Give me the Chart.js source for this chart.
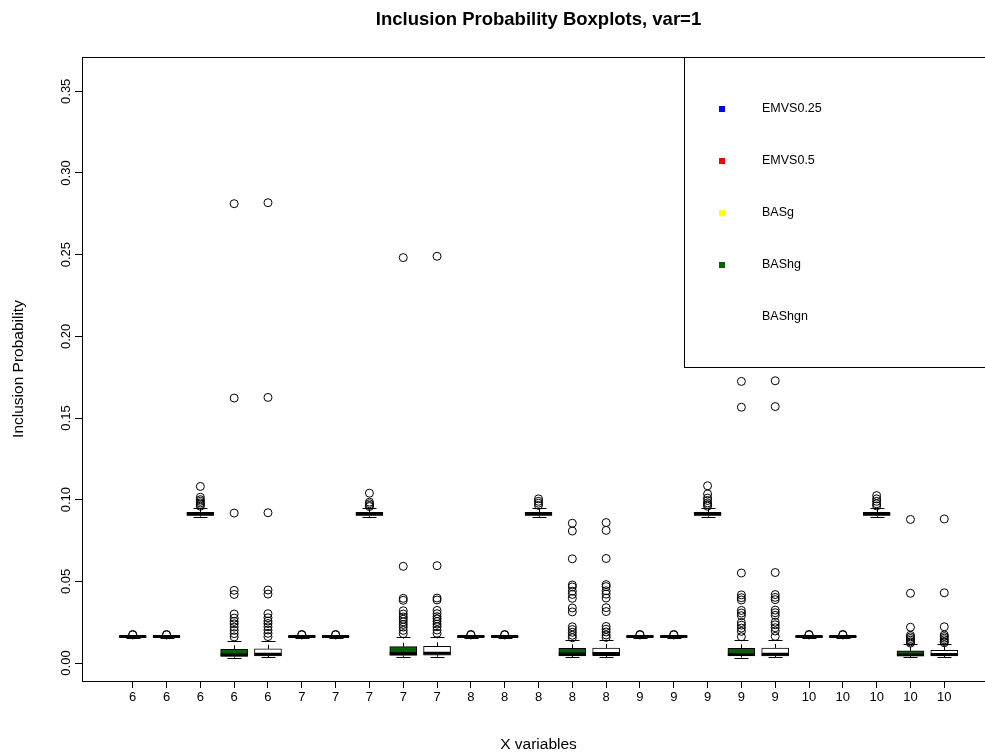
<!DOCTYPE html>
<html lang="en">
<head>
<meta charset="UTF-8">
<title>Inclusion Probability Boxplots</title>
<script src="https://cdn.jsdelivr.net/npm/chart.js"></script>
<style>
  html, body { margin: 0; padding: 0; background: #fff; overflow: hidden; }
  #grafico { display: block; }
</style>
</head>
<body>
<canvas id="grafico" width="1000" height="756"></canvas>
<script>
// one box per (variable, method), five methods for each variable
const xLabels = ['6','6','6','6','6','7','7','7','7','7','8','8','8','8','8',
                 '9','9','9','9','9','10','10','10','10','10'];
const methods = ['EMVS0.25', 'EMVS0.5', 'BASg', 'BAShg', 'BAShgn'];
const methodColors = ['#0000FF', '#FF0000', '#FFFF00', '#006400', '#FFFFFF'];
const yTicks = [0, 0.05, 0.10, 0.15, 0.20, 0.25, 0.30, 0.35];

const whiskerLow = [
  0.0156, 0.0156, 0.0896, 0.0033, 0.0034,
  0.0156, 0.0156, 0.0896, 0.0038, 0.0039,
  0.0156, 0.0156, 0.0896, 0.0035, 0.0036,
  0.0156, 0.0156, 0.0896, 0.0033, 0.0034,
  0.0156, 0.0156, 0.0896, 0.0035, 0.0036
];
const q1 = [
  0.0159, 0.0159, 0.0903, 0.0041, 0.0043,
  0.0159, 0.0159, 0.0903, 0.0047, 0.0048,
  0.0159, 0.0159, 0.0903, 0.0044, 0.0045,
  0.0159, 0.0159, 0.0903, 0.0043, 0.0044,
  0.0159, 0.0159, 0.0903, 0.0043, 0.0044
];
const medians = [
  0.0162, 0.0162, 0.0913, 0.0050, 0.0053,
  0.0162, 0.0162, 0.0913, 0.0058, 0.0060,
  0.0162, 0.0162, 0.0913, 0.0056, 0.0058,
  0.0162, 0.0162, 0.0913, 0.0052, 0.0054,
  0.0162, 0.0162, 0.0913, 0.0050, 0.0052
];
const q3 = [
  0.0165, 0.0165, 0.0922, 0.0084, 0.0087,
  0.0165, 0.0165, 0.0922, 0.0100, 0.0102,
  0.0165, 0.0165, 0.0922, 0.0090, 0.0092,
  0.0165, 0.0165, 0.0922, 0.0090, 0.0092,
  0.0165, 0.0165, 0.0922, 0.0075, 0.0077
];
const whiskerHigh = [
  0.0168, 0.0168, 0.0948, 0.0135, 0.0137,
  0.0168, 0.0168, 0.0948, 0.0160, 0.0162,
  0.0168, 0.0168, 0.0948, 0.0141, 0.0143,
  0.0168, 0.0168, 0.0948, 0.0140, 0.0142,
  0.0168, 0.0168, 0.0948, 0.0116, 0.0118
];
const outliers = [
  [0.0172, 0.0175],
  [0.0172, 0.0175],
  [0.1081, 0.1015, 0.1000, 0.0990, 0.0980, 0.0970, 0.0960],
  [0.2812, 0.1622, 0.0918, 0.0445, 0.0420, 0.0300, 0.0275, 0.0255, 0.0240, 0.0220, 0.0200, 0.0180, 0.0160],
  [0.2818, 0.1626, 0.0920, 0.0447, 0.0422, 0.0302, 0.0277, 0.0257, 0.0242, 0.0222, 0.0202, 0.0182, 0.0162],
  [0.0172, 0.0175],
  [0.0172, 0.0175],
  [0.1040, 0.0985, 0.0975, 0.0965, 0.0958],
  [0.2482, 0.0592, 0.0396, 0.0384, 0.0320, 0.0300, 0.0282, 0.0268, 0.0252, 0.0236, 0.0220, 0.0200, 0.0180],
  [0.2490, 0.0596, 0.0398, 0.0386, 0.0322, 0.0302, 0.0284, 0.0270, 0.0254, 0.0238, 0.0222, 0.0202, 0.0182],
  [0.0172, 0.0175],
  [0.0172, 0.0175],
  [0.1005, 0.0990, 0.0978, 0.0965],
  [0.0856, 0.0808, 0.0638, 0.0478, 0.0466, 0.0440, 0.0420, 0.0396, 0.0337, 0.0313, 0.0222, 0.0205, 0.0188, 0.0170, 0.0155],
  [0.0860, 0.0812, 0.0640, 0.0480, 0.0468, 0.0442, 0.0422, 0.0398, 0.0339, 0.0315, 0.0224, 0.0207, 0.0190, 0.0172, 0.0157],
  [0.0172, 0.0175],
  [0.0172, 0.0175],
  [0.1085, 0.1035, 0.1010, 0.0995, 0.0980, 0.0970, 0.0960],
  [0.1724, 0.1566, 0.0551, 0.0417, 0.0400, 0.0386, 0.0322, 0.0306, 0.0290, 0.0248, 0.0232, 0.0214, 0.0194, 0.0161],
  [0.1728, 0.1570, 0.0554, 0.0419, 0.0402, 0.0388, 0.0324, 0.0308, 0.0292, 0.0250, 0.0234, 0.0216, 0.0196, 0.0163],
  [0.0172, 0.0175],
  [0.0172, 0.0175],
  [0.1025, 0.1005, 0.0990, 0.0975, 0.0962],
  [0.0879, 0.0427, 0.0219, 0.0170, 0.0160, 0.0150, 0.0140, 0.0130, 0.0122],
  [0.0882, 0.0430, 0.0222, 0.0172, 0.0162, 0.0152, 0.0142, 0.0132, 0.0124]
];

const FONT = '"Liberation Sans", Arial, Helvetica, sans-serif';
Chart.defaults.font.family = FONT;
Chart.defaults.color = '#000';

const positions = xLabels.map((_, i) => i + 1);
const BOX_W = 27;

// floating bars for the boxes (q1 .. q3)
const boxData = positions.map((p, i) => ({ x: p, y: [q1[i], q3[i]] }));
const outlierData = [];
outliers.forEach((lista, i) => {
  lista.forEach(v => outlierData.push({ x: positions[i], y: v }));
});

// whiskers (dashed) and staples, under the boxes
const whiskers = {
  id: 'whiskers',
  beforeDatasetsDraw(chart) {
    const { ctx, scales: { x, y } } = chart;
    ctx.save();
    ctx.strokeStyle = '#000';
    ctx.lineWidth = 1;
    positions.forEach((p, i) => {
      const px = Math.round(x.getPixelForValue(p)) + 0.5;
      ctx.setLineDash([4, 4]);
      ctx.beginPath();
      ctx.moveTo(px, y.getPixelForValue(q3[i]));
      ctx.lineTo(px, y.getPixelForValue(whiskerHigh[i]));
      ctx.moveTo(px, y.getPixelForValue(q1[i]));
      ctx.lineTo(px, y.getPixelForValue(whiskerLow[i]));
      ctx.stroke();
      ctx.setLineDash([]);
      ctx.beginPath();
      [whiskerHigh[i], whiskerLow[i]].forEach(v => {
        const py = Math.round(y.getPixelForValue(v)) + 0.5;
        ctx.moveTo(px - 7, py);
        ctx.lineTo(px + 7, py);
      });
      ctx.stroke();
    });
    ctx.restore();
  }
};

// thick median line drawn right after the boxes
const medianas = {
  id: 'medianas',
  afterDatasetDraw(chart, args) {
    if (args.index !== 0) return;
    const { ctx, scales: { x, y } } = chart;
    ctx.save();
    ctx.strokeStyle = '#000';
    ctx.lineWidth = 3;
    ctx.beginPath();
    positions.forEach((p, i) => {
      const px = x.getPixelForValue(p);
      const py = y.getPixelForValue(medians[i]);
      ctx.moveTo(px - BOX_W / 2, py);
      ctx.lineTo(px + BOX_W / 2, py);
    });
    ctx.stroke();
    ctx.restore();
  }
};

// frame, rotated y labels, title and the legend box
const moldura = {
  id: 'moldura',
  afterDraw(chart) {
    const { ctx, chartArea: a, scales: { y } } = chart;
    ctx.save();
    ctx.strokeStyle = '#000';
    ctx.lineWidth = 1;
    ctx.strokeRect(a.left + 0.5, a.top + 0.5, a.right - a.left, a.bottom - a.top);

    ctx.fillStyle = '#000';
    ctx.font = '13px ' + FONT;
    ctx.textAlign = 'center';
    ctx.textBaseline = 'middle';
    y.ticks.forEach(t => {
      ctx.save();
      ctx.translate(66, y.getPixelForValue(t.value));
      ctx.rotate(-Math.PI / 2);
      ctx.fillText(t.value.toFixed(2), 0, 0);
      ctx.restore();
    });

    ctx.font = 'bold 18.5px ' + FONT;
    ctx.fillText('Inclusion Probability Boxplots, var=1', (a.left + a.right) / 2, 20);

    // legend
    const lx = 684, ly = 57, lh = 310;
    ctx.fillStyle = '#fff';
    ctx.fillRect(lx, ly, a.right - lx, lh);
    ctx.strokeRect(lx + 0.5, ly + 0.5, a.right - lx, lh);
    ctx.font = '12.5px ' + FONT;
    ctx.textAlign = 'left';
    methods.forEach((m, i) => {
      const yy = 109 + i * 52;
      ctx.fillStyle = methodColors[i];
      ctx.fillRect(719, yy - 3, 6, 6);
      ctx.fillStyle = '#000';
      ctx.fillText(m, 762, yy);
    });
    ctx.restore();
  }
};

new Chart(document.getElementById('grafico'), {
  type: 'bar',
  data: {
    datasets: [
      {
        type: 'bar',
        data: boxData,
        backgroundColor: positions.map((p, i) => methodColors[i % 5]),
        borderColor: '#000',
        borderWidth: 1,
        borderSkipped: false,
        barThickness: BOX_W,
        grouped: false
      },
      {
        type: 'scatter',
        data: outlierData,
        pointStyle: 'circle',
        pointRadius: 4,
        pointBorderColor: '#000',
        pointBorderWidth: 1,
        pointBackgroundColor: 'rgba(0,0,0,0)'
      }
    ]
  },
  options: {
    responsive: false,
    animation: false,
    layout: { padding: { left: 0, top: 57, right: 4, bottom: 0 } },
    plugins: { legend: { display: false }, tooltip: { enabled: false } },
    scales: {
      x: {
        type: 'linear',
        offset: false,
        min: -0.5,
        max: 26.5,
        afterBuildTicks: s => { s.ticks = positions.map(v => ({ value: v })); },
        afterFit: s => { s.height = 75; },
        ticks: {
          callback: (v, i) => xLabels[i],
          autoSkip: false,
          maxRotation: 0,
          padding: 2,
          font: { size: 13 },
          color: '#000'
        },
        grid: { offset: false, drawOnChartArea: false, drawTicks: true, tickLength: 7, color: '#000' },
        border: { display: true, color: '#000' },
        title: { display: true, text: 'X variables', font: { size: 15.5 }, color: '#000', padding: { top: 4, bottom: 2 } }
      },
      y: {
        min: -0.011,
        max: 0.371,
        afterBuildTicks: s => { s.ticks = yTicks.map(v => ({ value: v })); },
        afterFit: s => { s.width = 82; },
        ticks: { display: false },
        grid: { drawOnChartArea: false, drawTicks: true, tickLength: 7, color: '#000' },
        border: { display: true, color: '#000' },
        title: { display: true, text: 'Inclusion Probability', font: { size: 15.5 }, color: '#000', padding: { top: 9, bottom: 0 } }
      }
    }
  },
  plugins: [whiskers, medianas, moldura]
});
</script>
</body>
</html>
